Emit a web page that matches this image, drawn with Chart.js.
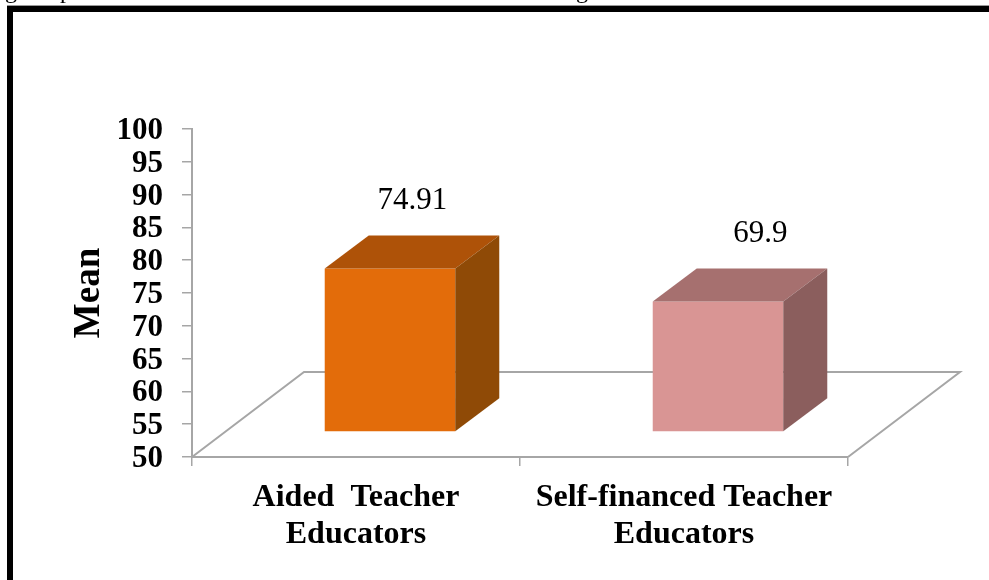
<!DOCTYPE html>
<html>
<head>
<meta charset="utf-8">
<style>
  html, body { margin: 0; padding: 0; background: #fff; }
  #wrap { position: relative; width: 989px; height: 580px; overflow: hidden; }
  #chart { position: absolute; left: 0; top: 0; }
  #frame { position: absolute; left: 7px; top: 6px; right: -10px; bottom: -10px; border-left: 6px solid #000; border-top: 6px solid #000; box-shadow: 0 -1px 0 #999; }
  #cutoff { position: absolute; left: 0; top: 0; width: 989px; height: 5px; overflow: hidden; font: 24px 'Liberation Serif', serif; color: #000; }
  #cutoff span { position: absolute; top: -23px; }
</style>
</head>
<body>
<div id="wrap">
  <canvas id="chart" width="989" height="580"></canvas>
  <div id="frame"></div>
  <div id="cutoff"><span style="left:5px">g</span><span style="left:60px">p</span><span style="left:576px">g</span></div>
</div>
<script src="https://cdn.jsdelivr.net/npm/chart.js@4"></script>
<script>
// ===== DATA =====
const categories = [['Aided  Teacher', 'Educators'], ['Self-financed Teacher', 'Educators']];
const meanValues = [74.91, 69.9];
const valueLabels = ['74.91', '69.9'];
const yTicks = [50, 55, 60, 65, 70, 75, 80, 85, 90, 95, 100];

const frontColors = ['#E36C0A', '#D99594'];
const topColors = ['#AE5208', '#A6706F'];
const sideColors = ['#8F4A06', '#8B5E5D'];

const serif = "'Liberation Serif', 'Times New Roman', serif";
const axisGray = '#A6A6A6';

// fake 3D: the bars sit on a floor, pushed forward of the axis
const floorDepth = { x: 112, y: 85 };
const barShift = { x: 34, y: -25 };
const barDepth = { x: 44, y: 33 };
// the value labels were placed by hand in the original
const labelNudgeX = [-43, -23];

function face(ctx, pts, color) {
  ctx.fillStyle = color;
  ctx.beginPath();
  pts.forEach((p, i) => i ? ctx.lineTo(p[0], p[1]) : ctx.moveTo(p[0], p[1]));
  ctx.closePath();
  ctx.fill();
}

const box3d = {
  id: 'box3d',
  beforeDatasetsDraw(chart) {
    const ctx = chart.ctx;
    const a = chart.chartArea;
    ctx.save();
    ctx.strokeStyle = axisGray;
    ctx.lineWidth = 2;
    ctx.beginPath();
    ctx.moveTo(a.left, a.bottom);
    ctx.lineTo(a.left + floorDepth.x, a.bottom - floorDepth.y);
    ctx.lineTo(a.right + floorDepth.x, a.bottom - floorDepth.y);
    ctx.lineTo(a.right, a.bottom);
    ctx.stroke();
    ctx.restore();
  },
  beforeDatasetDraw(chart) {
    chart.ctx.save();
    chart.ctx.translate(barShift.x, barShift.y);
  },
  afterDatasetDraw(chart) {
    const ctx = chart.ctx;
    ctx.restore();
    chart.getDatasetMeta(0).data.forEach((bar, i) => {
      const p = bar.getProps(['x', 'y', 'base', 'width'], true);
      const l = p.x - p.width / 2 + barShift.x;
      const r = p.x + p.width / 2 + barShift.x;
      const t = p.y + barShift.y;
      const b = p.base + barShift.y;
      face(ctx, [[l, t], [r, t], [r + barDepth.x, t - barDepth.y], [l + barDepth.x, t - barDepth.y]], topColors[i]);
      face(ctx, [[r, t], [r + barDepth.x, t - barDepth.y], [r + barDepth.x, b - barDepth.y], [r, b]], sideColors[i]);
      ctx.save();
      ctx.fillStyle = '#000';
      ctx.font = '31px ' + serif;
      ctx.textAlign = 'center';
      ctx.textBaseline = 'middle';
      ctx.fillText(valueLabels[i], r + labelNudgeX[i], t - 68);
      ctx.restore();
    });
  }
};

new Chart(document.getElementById('chart').getContext('2d'), {
  type: 'bar',
  plugins: [box3d],
  data: {
    labels: categories,
    datasets: [{
      label: 'Mean',
      data: meanValues,
      base: 50,
      backgroundColor: frontColors,
      borderWidth: 0,
      categoryPercentage: 1,
      barPercentage: 0.398
    }]
  },
  options: {
    responsive: false,
    animation: false,
    layout: { autoPadding: false, padding: { left: 71, right: 141, top: 129, bottom: 0 } },
    plugins: { legend: { display: false }, tooltip: { enabled: false } },
    scales: {
      x: {
        afterFit(scale) { scale.height = 123; },
        grid: { color: axisGray, lineWidth: 1.5, drawOnChartArea: false, tickLength: 9 },
        border: { color: axisGray, width: 2 },
        ticks: {
          color: '#000',
          padding: 13,
          maxRotation: 0,
          autoSkip: false,
          font: { family: serif, size: 32, weight: 'bold', lineHeight: 1.156 }
        }
      },
      y: {
        type: 'linear',
        min: 50,
        max: 100,
        afterFit(scale) { scale.width = 121; },
        afterBuildTicks(scale) { scale.ticks = yTicks.map(v => ({ value: v })); },
        title: {
          display: true,
          text: 'Mean',
          color: '#000',
          padding: { top: 0, bottom: 0 },
          font: { family: serif, size: 37, weight: 'bold', lineHeight: 1 }
        },
        grid: { color: axisGray, lineWidth: 1.5, drawOnChartArea: false, tickLength: 10 },
        border: { color: axisGray, width: 2 },
        ticks: {
          color: '#000',
          padding: 19,
          autoSkip: false,
          labelOffset: 2,
          font: { family: serif, size: 31, weight: 'bold' }
        }
      }
    }
  }
});
</script>
</body>
</html>
